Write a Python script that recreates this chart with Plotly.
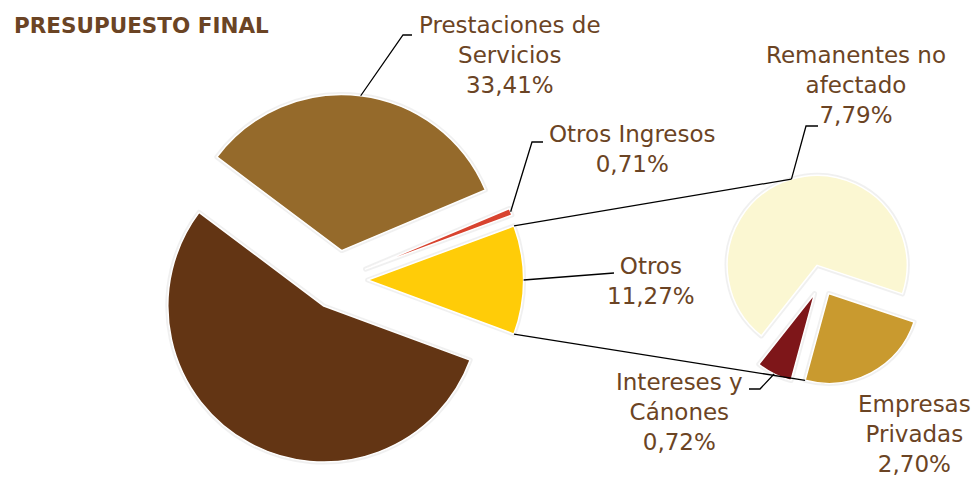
import math
import plotly.graph_objects as go

W, H = 973, 479

# ---------------- data ----------------
MAIN_LABELS = ["Otros", "Otros Ingresos", "Prestaciones de\nServicios", "Resto"]
MAIN_VALUES = [11.27, 0.71, 33.41, 54.61]
MAIN_SHOW = [True, True, True, False]
MAIN_COLORS = ["#FFCC08", "#D8432F", "#956A2B", "#633514"]

SUB_LABELS = ["Remanentes no\nafectado", "Intereses y\nCánones", "Empresas\nPrivadas"]
SUB_VALUES = [7.79, 0.72, 2.70]
SUB_COLORS = ["#FBF7D2", "#7E1619", "#C99A2F"]

TITLE = "PRESUPUESTO FINAL"
TEXT_COLOR = "#6B4424"
FONT = "DejaVu Sans"

# ---------------- layout geometry (pixels) ----------------
MAIN_C = (338.0, 280.0)
MAIN_R = 156.0
MAIN_PULL = 0.19
SUB_C = (821.5, 280.0)
SUB_R = 90.0
SUB_PULL = 0.17
SUB_START = -18.5  # math angle where first secondary slice starts


def px(x):
    return x / W


def py(y):
    return 1 - y / H


def domain(c, r, pull):
    half = r * (1 + pull)
    return dict(x=[px(c[0] - half), px(c[0] + half)],
                y=[py(c[1] + half), py(c[1] - half)])


def slices(values, math_start):
    total = sum(values)
    out, a = [], math_start
    for v in values:
        span = 360.0 * v / total
        out.append((a, a + span))
        a += span
    return out


def vertex(c, r, pull, sl):
    m = math.radians((sl[0] + sl[1]) / 2)
    return (c[0] + pull * r * math.cos(m), c[1] - pull * r * math.sin(m))


def arc_pt(c, r, pull, sl, ang):
    v = vertex(c, r, pull, sl)
    a = math.radians(ang)
    return (v[0] + r * math.cos(a), v[1] - r * math.sin(a))


main_first = 360.0 * MAIN_VALUES[0] / sum(MAIN_VALUES)
MAIN_START = -main_first / 2
MAIN_ROT = 90 - MAIN_START - main_first
sub_first = 360.0 * SUB_VALUES[0] / sum(SUB_VALUES)
SUB_ROT = 90 - SUB_START - sub_first

main_sl = slices(MAIN_VALUES, MAIN_START)
sub_sl = slices(SUB_VALUES, SUB_START)

fig = go.Figure()


def add_pie(labels, values, colors, c, r, pull, rot, shadow=False):
    fig.add_trace(go.Pie(
        labels=[l.replace("\n", " ") for l in labels],
        values=values,
        sort=False,
        direction="counterclockwise",
        rotation=rot,
        pull=[pull] * len(values),
        domain=domain(c, r, pull),
        textinfo="none",
        hoverinfo="skip" if shadow else "label+percent",
        opacity=0.22 if shadow else 1,
        marker=dict(colors=(["#BDBDBD"] * len(values)) if shadow else colors,
                    line=dict(color="#BDBDBD" if shadow else "#FFFFFF",
                              width=5 if shadow else 1.5)),
        showlegend=False,
    ))


add_pie(MAIN_LABELS, MAIN_VALUES, MAIN_COLORS, MAIN_C, MAIN_R, MAIN_PULL, MAIN_ROT, True)
add_pie(SUB_LABELS, SUB_VALUES, SUB_COLORS, SUB_C, SUB_R, SUB_PULL, SUB_ROT, True)
add_pie(MAIN_LABELS, MAIN_VALUES, MAIN_COLORS, MAIN_C, MAIN_R, MAIN_PULL, MAIN_ROT)
add_pie(SUB_LABELS, SUB_VALUES, SUB_COLORS, SUB_C, SUB_R, SUB_PULL, SUB_ROT)


def fmt(v):
    return f"{v:.2f}".replace(".", ",") + "%"


shapes = []


def line(points):
    d = "M " + " L ".join(f"{px(x):.5f},{py(y):.5f}" for x, y in points)
    shapes.append(dict(type="path", path=d, xref="paper", yref="paper",
                       line=dict(color="#000000", width=1.3)))


def mid(sl):
    return (sl[0] + sl[1]) / 2


# leader lines
line([arc_pt(MAIN_C, MAIN_R, MAIN_PULL, main_sl[2], mid(main_sl[2])), (403, 35), (412, 35)])
line([arc_pt(MAIN_C, MAIN_R, MAIN_PULL, main_sl[1], mid(main_sl[1])), (532, 142), (543, 142)])
line([arc_pt(MAIN_C, MAIN_R, MAIN_PULL, main_sl[0], mid(main_sl[0])), (614, 273)])
rem_pt = arc_pt(SUB_C, SUB_R, SUB_PULL, sub_sl[0], mid(sub_sl[0]))
line([rem_pt, (806, 126), (818, 126)])
line([arc_pt(SUB_C, SUB_R, SUB_PULL, sub_sl[1], mid(sub_sl[1])), (760, 389), (749, 389)])

# connector lines between pies
line([arc_pt(MAIN_C, MAIN_R, MAIN_PULL, main_sl[0], main_sl[0][1]), rem_pt])
line([arc_pt(MAIN_C, MAIN_R, MAIN_PULL, main_sl[0], main_sl[0][0]),
      arc_pt(SUB_C, SUB_R, SUB_PULL, sub_sl[2], sub_sl[2][0])])

# label positions (pixel centres of text blocks)
MAIN_LABEL_POS = [(651, 281), (632, 149), (510, 55), None]
SUB_LABEL_POS = [(856, 85), (679, 412), (914, 434)]

annotations = [dict(text=f"<b>{TITLE}</b>", x=px(12), y=py(25), xref="paper", yref="paper",
                    xanchor="left", yanchor="middle", showarrow=False,
                    font=dict(family=FONT, size=21.5, color=TEXT_COLOR))]
for lab, val, pos, show in zip(MAIN_LABELS, MAIN_VALUES, MAIN_LABEL_POS, MAIN_SHOW):
    if not show:
        continue
    annotations.append(dict(text=lab.replace("\n", "<br>") + "<br>" + fmt(val),
                            x=px(pos[0]), y=py(pos[1]), xref="paper", yref="paper",
                            xanchor="center", yanchor="middle", showarrow=False,
                            font=dict(family=FONT, size=23, color=TEXT_COLOR)))
for lab, val, pos in zip(SUB_LABELS, SUB_VALUES, SUB_LABEL_POS):
    annotations.append(dict(text=lab.replace("\n", "<br>") + "<br>" + fmt(val),
                            x=px(pos[0]), y=py(pos[1]), xref="paper", yref="paper",
                            xanchor="center", yanchor="middle", showarrow=False,
                            font=dict(family=FONT, size=23, color=TEXT_COLOR)))

fig.update_layout(
    width=W, height=H,
    margin=dict(l=0, r=0, t=0, b=0),
    paper_bgcolor="#FFFFFF",
    plot_bgcolor="#FFFFFF",
    shapes=shapes,
    annotations=annotations,
    showlegend=False,
)

fig.write_html("out.html",
               config={"displayModeBar": False},
               post_script="document.body.style.margin='0';document.body.style.overflow='hidden';")
